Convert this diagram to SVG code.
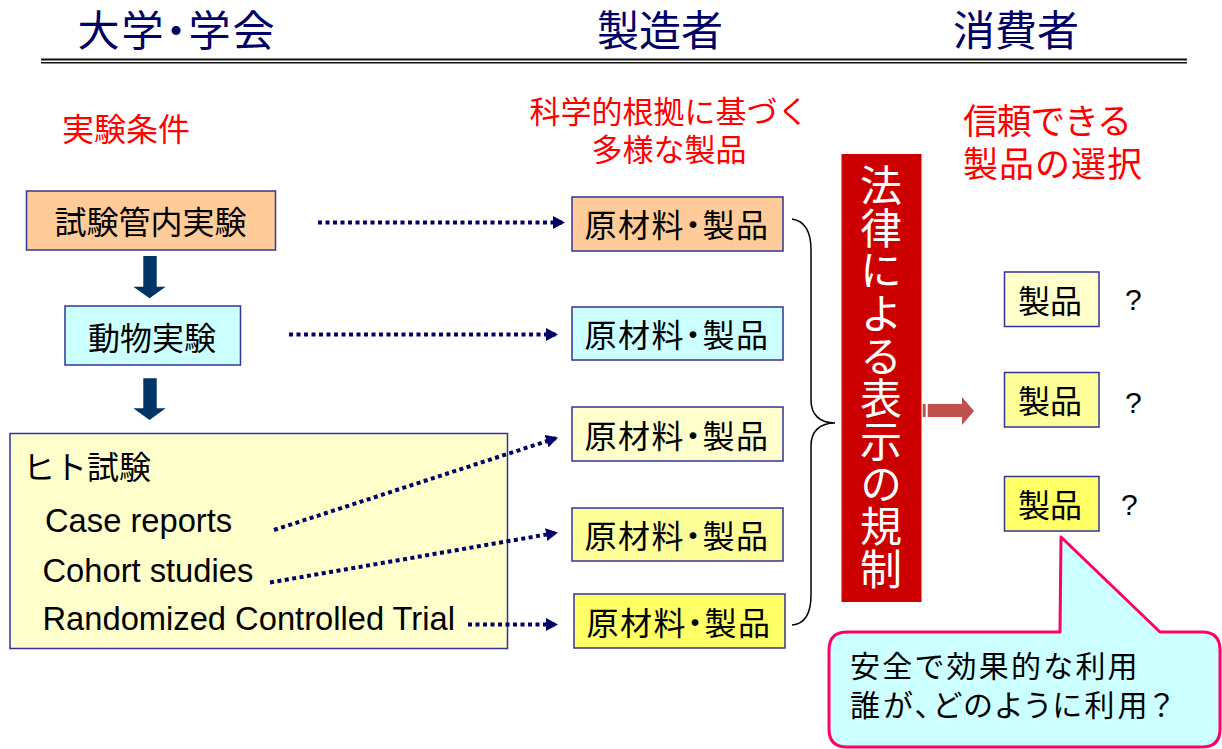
<svg xmlns="http://www.w3.org/2000/svg" width="1222" height="749" viewBox="0 0 1222 749">
<style>
text{font-family:"Noto Sans CJK JP","Noto Sans",sans-serif;}
.hd{font-size:42px;fill:#000066;text-anchor:middle;}
.red{fill:#FF0000;}
.box{stroke:#333399;stroke-width:1.5;}
.bt{font-size:32px;fill:#000;text-anchor:middle;}
.pp{font-feature-settings:"palt" 1;}
.en{font-family:"Liberation Sans",Arial,sans-serif;font-size:32.7px;fill:#000;}
.q{font-family:"Liberation Sans",Arial,sans-serif;font-size:30px;fill:#000;}
.dot{fill:none;stroke:#000066;stroke-width:4;stroke-dasharray:4 3.5;marker-end:url(#ah);}
.down{fill:#003366;}
.law{font-size:42px;fill:#FFFFFF;}
</style>
<defs>
<marker id="ah" markerWidth="12" markerHeight="13" refX="12" refY="6.5" orient="auto" markerUnits="userSpaceOnUse">
<path d="M0,0 L12,6.5 L0,13 Z" fill="#000066"/>
</marker>
</defs>
<rect width="1222" height="749" fill="#FFFFFF"/>

<g id="headers">
<text class="hd pp" x="177" y="46" letter-spacing="2">大学・学会</text>
<text class="hd" x="660" y="46">製造者</text>
<text class="hd" x="1016" y="46">消費者</text>
<line x1="41" y1="59.5" x2="1187" y2="59.5" stroke="#111" stroke-width="2"/>
<line x1="41" y1="62.8" x2="1187" y2="62.8" stroke="#111" stroke-width="1.5"/>
</g>

<g id="labels">
<text class="red" x="62" y="141" font-size="32">実験条件</text>
<text class="red" x="669" y="123" font-size="31" text-anchor="middle">科学的根拠に基づく</text>
<text class="red" x="669" y="161" font-size="31" text-anchor="middle">多様な製品</text>
<text class="red" x="963" y="134" font-size="35" textLength="169" lengthAdjust="spacing">信頼できる</text>
<text class="red" x="963" y="177" font-size="35" letter-spacing="1">製品の選択</text>
</g>

<g id="n-invitro">
<rect class="box" x="26.5" y="191" width="249" height="59" fill="#FFCC99"/>
<text class="bt" x="150.5" y="234" font-size="36">試験管内実験</text>
</g>
<g id="n-animal">
<rect class="box" x="65" y="306" width="175.5" height="59" fill="#CCFFFF"/>
<text class="bt" x="152" y="350" font-size="36">動物実験</text>
</g>
<g id="n-human">
<rect class="box" x="10" y="433.5" width="497.5" height="215" fill="#FFFFCC"/>
<text x="23" y="479" font-size="32" fill="#000">ヒト試験</text>
<text class="en" x="45" y="532">Case reports</text>
<text class="en" x="42.5" y="581.5">Cohort studies</text>
<text class="en" x="42.5" y="630">Randomized Controlled Trial</text>
</g>

<g id="n-prod1">
<rect class="box" x="572" y="197" width="211" height="54" fill="#FFCC99"/>
<text class="bt pp" x="677" y="237" letter-spacing="1.5">原材料・製品</text>
</g>
<g id="n-prod2">
<rect class="box" x="572" y="307" width="211" height="53" fill="#CCFFFF"/>
<text class="bt pp" x="677" y="347" letter-spacing="1.5">原材料・製品</text>
</g>
<g id="n-prod3">
<rect class="box" x="572" y="407" width="211" height="54" fill="#FFFFCC"/>
<text class="bt pp" x="677" y="447.5" letter-spacing="1.5">原材料・製品</text>
</g>
<g id="n-prod4">
<rect class="box" x="572" y="508" width="211" height="53" fill="#FFFF99"/>
<text class="bt pp" x="677" y="548" letter-spacing="1.5">原材料・製品</text>
</g>
<g id="n-prod5">
<rect class="box" x="574" y="594" width="211" height="54" fill="#FFFF66"/>
<text class="bt pp" x="679" y="634.5" letter-spacing="1.5">原材料・製品</text>
</g>

<g id="n-law">
<rect x="841.5" y="154" width="80" height="448" fill="#CC0000"/>
<text class="law" x="881" y="164" writing-mode="vertical-rl" letter-spacing="0.67">法律による表示の規制</text>
</g>

<g id="n-item1">
<rect class="box" x="1004.5" y="272" width="94.5" height="54.5" fill="#FFFFCC"/>
<text class="bt" x="1050" y="312.5">製品</text>
<text class="q" x="1125" y="310">?</text>
</g>
<g id="n-item2">
<rect class="box" x="1004.5" y="372.5" width="94.5" height="54.5" fill="#FFFF99"/>
<text class="bt" x="1050" y="413">製品</text>
<text class="q" x="1125" y="413">?</text>
</g>
<g id="n-item3">
<rect class="box" x="1004.5" y="476.5" width="94.5" height="54.5" fill="#FFFF66"/>
<text class="bt" x="1050" y="517">製品</text>
<text class="q" x="1121" y="515">?</text>
</g>

<g id="n-callout">
<path d="M847,632 L1060,632 L1061,537 L1160,632 L1202,632 Q1220,632 1220,650 L1220,729 Q1220,747 1202,747 L847,747 Q829,747 829,729 L829,650 Q829,632 847,632 Z" fill="#CCFFFF" stroke="#FF0066" stroke-width="3" stroke-linejoin="round"/>
<text x="850" y="677" font-size="30" letter-spacing="2.2" fill="#000">安全で効果的な利用</text>
<text class="pp" x="850" y="716" font-size="30" letter-spacing="3" fill="#000">誰が、どのように利用？</text>
</g>

<g id="connectors">
<polygon class="down" points="143.3,256 156.7,256 156.7,286.7 165.7,286.7 149.5,298.3 133.3,286.7 143.3,286.7"/>
<polygon class="down" points="143.3,378.3 156.7,378.3 156.7,408.3 165.7,408.3 149.5,420 133.3,408.3 143.3,408.3"/>
<line class="dot" x1="318" y1="222.5" x2="565" y2="222.5"/>
<line class="dot" x1="289" y1="334.5" x2="558" y2="334.5"/>
<line class="dot" x1="274" y1="530" x2="558" y2="437.5"/>
<line class="dot" x1="270" y1="582.5" x2="558" y2="532.5"/>
<line class="dot" x1="468" y1="624.5" x2="558" y2="624.5"/>
<path d="M792,219 C805,221 811,232 811,250 L811,400 C811,415 820,423 835,423 C820,423 811,431 811,446 L811,595 C811,613 805,624 792,625" fill="none" stroke="#000" stroke-width="1.5"/>
<rect x="922.7" y="404" width="3" height="13" fill="#C0504D"/>
<polygon points="927.7,404 962,404 962,397 974,411 962,425 962,417 927.7,417" fill="#C0504D"/>
</g>
</svg>
